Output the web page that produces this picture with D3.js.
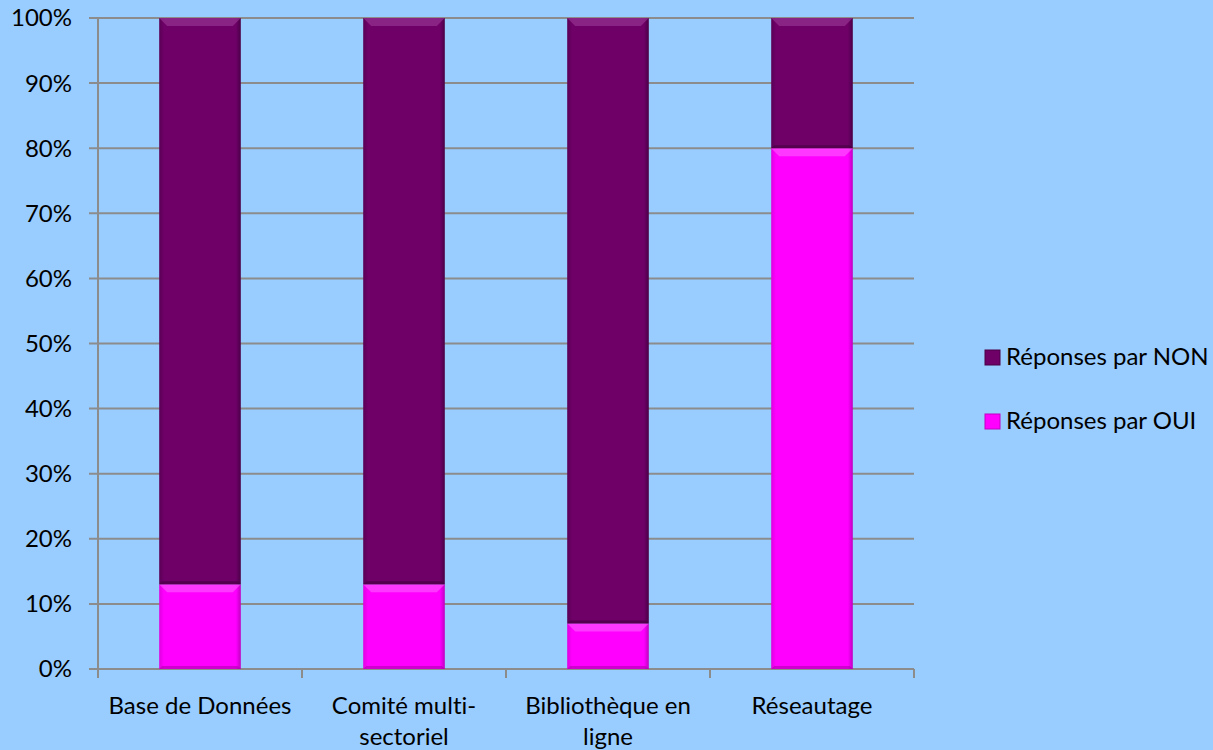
<!DOCTYPE html>
<html>
<head>
<meta charset="utf-8">
<script src="https://cdn.jsdelivr.net/npm/d3@7"></script>
<style>
  html, body { margin: 0; padding: 0; background: #99CCFF; }
  svg { display: block; }
  text { font-family: Lato, "Open Sans", sans-serif; fill: #000; font-variant-ligatures: none; }
</style>
</head>
<body>
<script>
var categories = ["Base de Données", "Comité multi-sectoriel", "Bibliothèque en ligne", "Réseautage"];
var labelLines = [["Base de Données"], ["Comité multi-", "sectoriel"], ["Bibliothèque en", "ligne"], ["Réseautage"]];
var oui = [13, 13, 7, 80];
var non = [87, 87, 93, 20];
var yTicks = [0, 10, 20, 30, 40, 50, 60, 70, 80, 90, 100];
var seriesNames = ["Réponses par NON", "Réponses par OUI"];

var width = 1213, height = 750;
var mLeft = 98, mRight = 914, mTop = 18, mBottom = 669;

var svg = d3.select("body").append("svg").attr("width", width).attr("height", height);

var defs = svg.append("defs");
function grad(id, c1, c2, c3) {
  var g = defs.append("linearGradient").attr("id", id).attr("x1", 0).attr("x2", 1).attr("y1", 0).attr("y2", 0);
  g.append("stop").attr("offset", "0%").attr("stop-color", c1);
  g.append("stop").attr("offset", "6%").attr("stop-color", c2);
  g.append("stop").attr("offset", "94%").attr("stop-color", c2);
  g.append("stop").attr("offset", "100%").attr("stop-color", c3);
}
grad("gNon", "#5a0055", "#6e0068", "#4a0046");
grad("gOui", "#e000e0", "#ff00ff", "#c000c0");

var x = d3.scaleBand().domain(categories).range([mLeft, mRight]).paddingInner(0.6).paddingOuter(0.3);
var y = d3.scaleLinear().domain([0, 100]).range([mBottom, mTop]);

// gridlines
svg.append("g").selectAll("line").data(yTicks).enter().append("line")
  .attr("x1", mLeft - 9).attr("x2", mRight)
  .attr("y1", function(d) { return y(d); }).attr("y2", function(d) { return y(d); })
  .attr("stroke", "#8c8c8c").attr("stroke-width", 2);

// y labels
svg.append("g").selectAll("text").data(yTicks).enter().append("text")
  .attr("x", mLeft - 26).attr("y", function(d) { return y(d); })
  .attr("dy", "0.35em").attr("text-anchor", "end")
  .style("font-size", "24px")
  .text(function(d) { return d + "%"; });

// axes
svg.append("line").attr("x1", mLeft).attr("x2", mLeft).attr("y1", mTop).attr("y2", mBottom + 9)
  .attr("stroke", "#8c8c8c").attr("stroke-width", 2);
var step = (mRight - mLeft) / categories.length;
svg.append("g").selectAll("line").data(d3.range(categories.length + 1)).enter().append("line")
  .attr("x1", function(i) { return mLeft + i * step; }).attr("x2", function(i) { return mLeft + i * step; })
  .attr("y1", mBottom).attr("y2", mBottom + 9)
  .attr("stroke", "#8c8c8c").attr("stroke-width", 2);

function drawSeries(vals, base, fillId, light, dark) {
  var g = svg.append("g");
  categories.forEach(function(c, i) {
    var b0 = base ? base[i] : 0;
    var x0 = x(c), w = x.bandwidth();
    var yTop = y(b0 + vals[i]), yBot = y(b0);
    var h = yBot - yTop;
    g.append("rect").attr("x", x0).attr("y", yTop).attr("width", w).attr("height", h)
      .attr("fill", "url(#" + fillId + ")");
    var bev = Math.min(8, h / 2);
    g.append("polygon")
      .attr("points", [[x0, yTop], [x0 + w, yTop], [x0 + w - bev, yTop + bev], [x0 + bev, yTop + bev]].join(" "))
      .attr("fill", light).attr("opacity", 0.55);
    g.append("polygon")
      .attr("points", [[x0, yBot], [x0 + w, yBot], [x0 + w - 3, yBot - 3], [x0 + 3, yBot - 3]].join(" "))
      .attr("fill", dark).attr("opacity", 0.5);
  });
}
drawSeries(oui, null, "gOui", "#ff66ff", "#a000a0");
drawSeries(non, oui, "gNon", "#a0409a", "#3a0036");

// x labels
var xl = svg.append("g").selectAll("text").data(categories).enter().append("text")
  .attr("text-anchor", "middle")
  .style("font-size", "24px")
  .attr("transform", function(d) { return "translate(" + (x(d) + x.bandwidth() / 2) + ",0)"; });
xl.selectAll("tspan").data(function(d, i) { return labelLines[i]; }).enter().append("tspan")
  .attr("x", 0).attr("y", function(d, j) { return 714 + j * 31; })
  .text(function(d) { return d; });

// legend
var leg = svg.append("g").selectAll("g").data(seriesNames).enter().append("g")
  .attr("transform", function(d, i) { return "translate(985," + (357 + i * 64) + ")"; });
leg.append("rect").attr("x", 0).attr("y", -7).attr("width", 15).attr("height", 15)
  .attr("fill", function(d, i) { return i === 0 ? "#6e0068" : "#ff00ff"; })
  .attr("stroke", function(d, i) { return i === 0 ? "#4a0046" : "#c000c0"; });
leg.append("text").attr("x", 21).attr("dy", "0.35em").style("font-size", "24px")
  .text(function(d) { return d; });
</script>
</body>
</html>
